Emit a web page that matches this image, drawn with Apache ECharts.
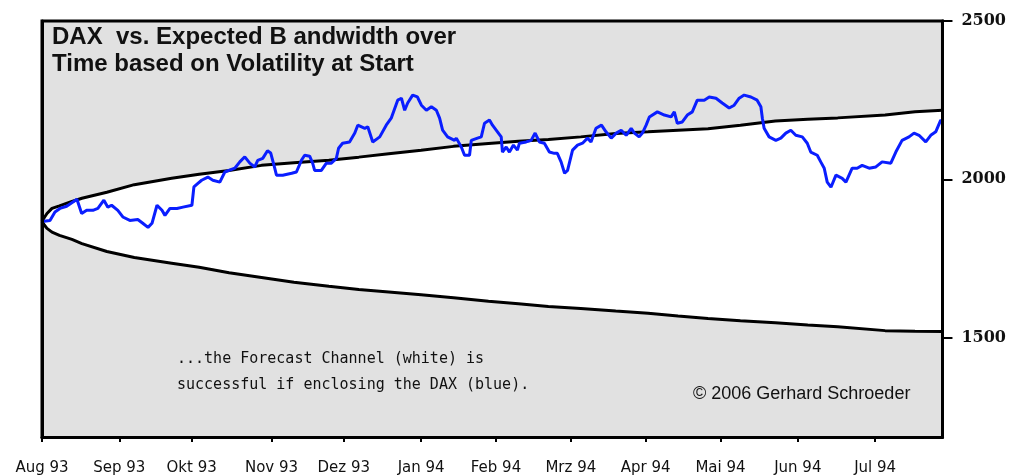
<!DOCTYPE html>
<html>
<head>
<meta charset="utf-8">
<script src="https://cdn.jsdelivr.net/npm/echarts@6/dist/echarts.min.js"></script>
<style>
  html, body { margin: 0; padding: 0; background: #fff; }
  #chart { width: 1009px; height: 476px; }
</style>
</head>
<body>
<div id="chart"></div>
<script>
// x = days since 1 Aug 1993
var monthTicks = [0, 31, 60, 92, 121, 152, 182, 212, 242, 272, 303, 334];
var monthLabels = ['Aug 93', 'Sep 93', 'Okt 93', 'Nov 93', 'Dez 93', 'Jan 94', 'Feb 94', 'Mrz 94', 'Apr 94', 'Mai 94', 'Jun 94', 'Jul 94'];

// expected bandwidth (upper / lower bound)
var envDays = [0, 1, 2, 4, 7, 12, 16, 26, 37, 52, 63, 75, 88, 101, 115, 127, 139, 152, 165, 179, 191, 203, 216, 230, 243, 255, 267, 280, 294, 307, 319, 338, 350, 361];
var upperBound = [1867, 1880, 1892, 1908, 1916, 1930, 1940, 1959, 1983, 2003, 2016, 2028, 2044, 2052, 2060, 2070, 2081, 2092, 2104, 2113, 2120, 2126, 2134, 2145, 2150, 2155, 2160, 2171, 2184, 2190, 2194, 2203, 2213, 2218];
var lowerBound = [1867, 1855, 1845, 1833, 1823, 1810, 1797, 1772, 1753, 1735, 1722, 1705, 1690, 1675, 1662, 1652, 1644, 1635, 1626, 1615, 1607, 1598, 1592, 1584, 1577, 1568, 1560, 1553, 1547, 1540, 1534, 1522, 1520, 1519];

// DAX
var daxDays = [0, 3.2, 5.2, 7.2, 9.9, 12.4, 14.0, 15.9, 17.9, 20.4, 22.4, 24.8, 26.4, 27.9, 30.4, 32.4, 35.2, 38.4, 40.4, 42.5, 44.1, 46.1, 48.1, 49.3, 51.3, 54.1, 56.5, 60.1, 60.9, 62.5, 64.0, 66.5, 68.5, 71.3, 73.3, 77.3, 79.3, 81.3, 83.3, 85.3, 86.5, 88.5, 90.4, 91.7, 93.3, 94.0, 96.5, 100.1, 102.0, 104.0, 105.3, 107.3, 108.5, 109.3, 112.0, 114.0, 116.0, 118.0, 118.9, 120.5, 123.3, 125.4, 126.6, 127.4, 129.4, 130.6, 132.6, 135.4, 138.0, 140.0, 142.6, 144.1, 145.4, 146.6, 148.6, 150.5, 152.1, 154.1, 156.1, 158.1, 159.4, 160.6, 162.6, 165.4, 166.1, 168.1, 169.4, 171.4, 172.1, 174.6, 176.1, 177.4, 179.4, 180.6, 182.6, 184.1, 184.6, 186.1, 187.4, 189.0, 190.6, 191.4, 194.1, 196.1, 197.7, 199.4, 201.4, 203.4, 205.4, 206.6, 208.1, 209.5, 210.7, 212.7, 214.7, 216.7, 218.7, 220.1, 222.1, 224.3, 226.1, 228.2, 230.2, 232.2, 234.2, 236.2, 237.5, 239.4, 240.7, 242.2, 243.5, 246.7, 249.5, 252.2, 253.5, 254.7, 256.7, 258.7, 260.7, 262.7, 265.5, 267.5, 270.2, 272.7, 275.5, 277.5, 279.5, 281.5, 284.2, 286.7, 288.2, 288.8, 289.5, 291.5, 294.2, 296.2, 298.2, 300.2, 302.2, 304.8, 306.8, 308.2, 310.8, 312.2, 313.6, 314.8, 316.3, 318.3, 320.8, 322.3, 324.8, 326.8, 328.8, 331.6, 334.3, 336.8, 340.3, 342.3, 344.8, 347.6, 349.6, 351.6, 354.3, 356.3, 358.3, 360.3, 361];
var daxClose = [1867, 1870, 1897, 1908, 1915, 1928, 1937, 1892, 1902, 1902, 1908, 1934, 1912, 1918, 1902, 1881, 1870, 1873, 1861, 1848, 1861, 1918, 1902, 1886, 1908, 1908, 1912, 1918, 1976, 1987, 1997, 2007, 1997, 1991, 2023, 2035, 2055, 2071, 2051, 2039, 2060, 2066, 2090, 2083, 2035, 2013, 2013, 2019, 2023, 2060, 2076, 2073, 2051, 2028, 2028, 2051, 2051, 2066, 2098, 2114, 2118, 2146, 2171, 2171, 2161, 2166, 2118, 2134, 2171, 2193, 2250, 2256, 2218, 2241, 2266, 2260, 2234, 2218, 2229, 2218, 2193, 2155, 2134, 2123, 2130, 2102, 2076, 2076, 2123, 2130, 2134, 2177, 2187, 2171, 2150, 2134, 2086, 2102, 2086, 2108, 2092, 2114, 2118, 2123, 2146, 2118, 2114, 2086, 2082, 2082, 2055, 2019, 2028, 2092, 2108, 2114, 2130, 2118, 2161, 2171, 2150, 2130, 2146, 2155, 2139, 2161, 2146, 2134, 2146, 2171, 2197, 2213, 2203, 2197, 2213, 2177, 2181, 2203, 2213, 2250, 2250, 2260, 2256, 2241, 2225, 2234, 2256, 2266, 2260, 2250, 2229, 2193, 2161, 2134, 2123, 2130, 2146, 2155, 2139, 2134, 2114, 2086, 2076, 2055, 2035, 1991, 1975, 2013, 2003, 1991, 2035, 2035, 2044, 2035, 2039, 2055, 2051, 2086, 2123, 2134, 2146, 2139, 2118, 2139, 2150, 2187, 2181];

var plotGray = '#e1e1e1';

var upperData = [], lowerData = [], daxData = [];
for (var i = 0; i < envDays.length; i++) {
	upperData.push([envDays[i], upperBound[i]]);
	lowerData.push([envDays[i], lowerBound[i]]);
}
for (var j = 0; j < daxDays.length; j++) {
	daxData.push([daxDays[j], daxClose[j]]);
}

var myChart = echarts.init(document.getElementById('chart'));
var option = {
	backgroundColor: '#fff',
	animation: false,
	title: [{
		text: 'DAX  vs. Expected B andwidth over\nTime based on Volatility at Start',
		left: 52,
		top: 24,
		padding: 0,
		textStyle: {
			fontFamily: 'Liberation Sans',
			fontWeight: 'bold',
			fontSize: 24,
			lineHeight: 27,
			color: '#111'
		}
	}, {
		text: '...the Forecast Channel (white) is\nsuccessful if enclosing the DAX (blue).',
		left: 177,
		top: 346,
		padding: 0,
		textStyle: {
			fontFamily: 'DejaVu Sans Mono',
			fontWeight: 'normal',
			fontSize: 15,
			lineHeight: 26,
			color: '#111'
		}
	}, {
		text: '\u00a9 2006 Gerhard Schroeder',
		left: 693,
		top: 384,
		padding: 0,
		textStyle: {
			fontFamily: 'Liberation Sans Narrow, Liberation Sans',
			fontWeight: 'normal',
			fontSize: 18,
			lineHeight: 20,
			color: '#111'
		}
	}],
	grid: {
		left: 42,
		right: 65,
		top: 21,
		bottom: 38,
		show: true,
		backgroundColor: plotGray,
		borderColor: '#000',
		borderWidth: 3
	},
	xAxis: {
		type: 'value',
		min: 0,
		max: 361,
		z: 5,
		axisLine: { show: true, onZero: false, lineStyle: { color: '#000', width: 3 } },
		axisTick: {
			show: true,
			customValues: monthTicks,
			length: 5,
			lineStyle: { color: '#000', width: 2 }
		},
		axisLabel: {
			customValues: monthTicks,
			margin: 24,
			fontFamily: 'DejaVu Sans',
			fontSize: 15,
			color: '#111',
			formatter: function (v) {
				var k = monthTicks.indexOf(v);
				return k >= 0 ? monthLabels[k] : '';
			}
		},
		splitLine: { show: false }
	},
	yAxis: [{
		type: 'value',
		position: 'right',
		min: 1186,
		max: 2500,
		splitNumber: 2,
		z: 5,
		axisLine: { show: true, onZero: false, lineStyle: { color: '#000', width: 3 } },
		axisTick: {
			show: true,
			length: 10,
			lineStyle: { color: '#000', width: 2 }
		},
		axisLabel: {
			showMinLabel: false,
			margin: 19,
			fontFamily: 'DejaVu Serif',
			fontWeight: 'bold',
			fontSize: 16,
			color: '#111',
			formatter: function (v) { return v % 500 === 0 ? String(v) : ''; }
		},
		splitLine: { show: false }
	}, {
		// left frame edge only
		type: 'value',
		position: 'left',
		min: 1186,
		max: 2500,
		z: 5,
		axisLine: { show: true, onZero: false, lineStyle: { color: '#000', width: 3 } },
		axisTick: { show: false },
		axisLabel: { show: false },
		splitLine: { show: false }
	}],
	series: [{
		name: 'upper',
		type: 'line',
		data: upperData,
		symbol: 'none',
		z: 2,
		lineStyle: { color: '#000', width: 3 },
		areaStyle: { color: '#fff', opacity: 1, origin: 'start' }
	}, {
		name: 'lower',
		type: 'line',
		data: lowerData,
		symbol: 'none',
		z: 3,
		lineStyle: { color: '#000', width: 3 },
		areaStyle: { color: plotGray, opacity: 1, origin: 'start' }
	}, {
		name: 'DAX',
		type: 'line',
		data: daxData,
		symbol: 'none',
		z: 4,
		lineStyle: { color: '#0a1eff', width: 3 }
	}]
};
myChart.setOption(option);
</script>
</body>
</html>
